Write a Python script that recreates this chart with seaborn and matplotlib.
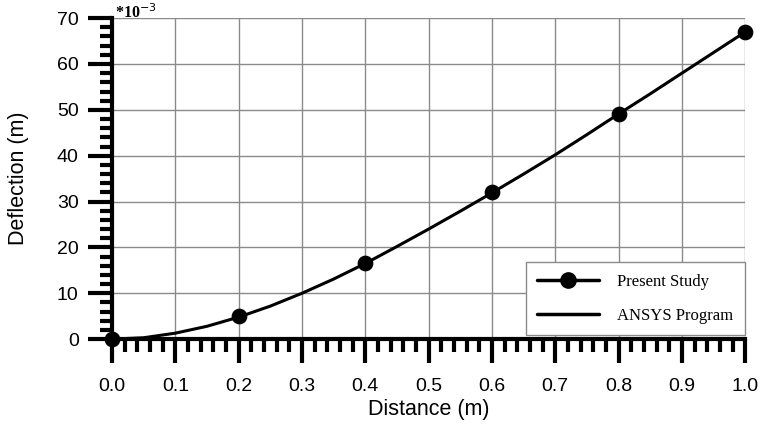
import matplotlib
matplotlib.use("Agg")
import matplotlib.pyplot as plt
import seaborn as sns
import pandas as pd
from matplotlib.ticker import MultipleLocator
from matplotlib.lines import Line2D

# Data
study_x = [0.0, 0.2, 0.4, 0.6, 0.8, 1.0]
study_y = [0.0, 5.0, 16.5, 32.0, 49.2, 67.0]

ansys_x = [0.0, 0.05, 0.1, 0.15, 0.2, 0.25, 0.3, 0.35, 0.4, 0.45, 0.5,
           0.55, 0.6, 0.65, 0.7, 0.75, 0.8, 0.85, 0.9, 0.95, 1.0]
ansys_y = [0.0, 0.3, 1.3, 2.8, 4.8, 7.2, 10.0, 13.1, 16.5, 20.2, 24.0,
           27.9, 31.9, 36.0, 40.2, 44.6, 49.1, 53.5, 58.0, 62.5, 67.0]

x_ticks = [0.0, 0.1, 0.2, 0.3, 0.4, 0.5, 0.6, 0.7, 0.8, 0.9, 1.0]
y_ticks = [0, 10, 20, 30, 40, 50, 60, 70]

sns.set_style("white", {"text.color": "black", "axes.labelcolor": "black",
                        "xtick.color": "black", "ytick.color": "black"})
plt.rcParams['font.family'] = ['Liberation Sans', 'DejaVu Sans']

fig = plt.figure(figsize=(7.62, 4.32), dpi=100)
ax = fig.add_axes([0.147, 0.215, 0.831, 0.743])

df_s = pd.DataFrame({"x": study_x, "y": study_y})
df_a = pd.DataFrame({"x": ansys_x, "y": ansys_y})

sns.lineplot(data=df_a, x="x", y="y", ax=ax, color="black", lw=2.2,
             zorder=3, legend=False)
sns.scatterplot(data=df_s, x="x", y="y", ax=ax, color="black", s=110,
                edgecolor="black", zorder=4, clip_on=False, legend=False)

ax.set_xlim(0, 1.0)
ax.set_ylim(0, 70)
ax.set_xticks(x_ticks)
ax.set_yticks(y_ticks)
ax.set_xticklabels([f"{v:.1f}" for v in x_ticks])
ax.set_yticklabels([str(v) for v in y_ticks])
ax.xaxis.set_minor_locator(MultipleLocator(0.02))
ax.yaxis.set_minor_locator(MultipleLocator(2))

ax.grid(True, which="major", color="#8a8a8a", lw=1.0)
ax.set_axisbelow(True)

for s in ["top", "right"]:
    ax.spines[s].set_visible(False)
for s in ["left", "bottom"]:
    ax.spines[s].set_color("black")
    ax.spines[s].set_linewidth(3)
    ax.spines[s].set_zorder(5)

ax.tick_params(axis="both", which="major", direction="out", length=17,
               width=3, color="black", labelcolor="black", labelsize=14,
               bottom=True, left=True)
ax.tick_params(axis="both", which="minor", direction="out", length=9,
               width=3, color="black", bottom=True, left=True)
ax.tick_params(axis="x", which="major", pad=11)
ax.tick_params(axis="y", which="major", pad=7)

ax.set_xlabel("Distance (m)", fontsize=15.5, labelpad=3, color="black")
ax.set_ylabel("Deflection (m)", fontsize=15.5, labelpad=20, color="black")

ax.text(0.005, 1.0, "*10$^{-3}$", transform=ax.transAxes, ha="left",
        va="baseline", fontsize=11.5, fontweight="bold", color="black",
        family="Liberation Serif")

handles = [Line2D([], [], color="black", lw=2.5, marker="o", markersize=11),
           Line2D([], [], color="black", lw=2.5)]
leg = ax.legend(handles, ["Present Study", "ANSYS Program"], loc="lower right",
                bbox_to_anchor=(1.0, 0.012), borderaxespad=0,
                prop={"family": "Liberation Serif", "size": 12},
                fancybox=False, framealpha=1, edgecolor="#8a8a8a",
                handlelength=3.7, borderpad=0.7, labelspacing=1.05, handletextpad=1.1)
leg.get_frame().set_linewidth(1.0)
leg.set_zorder(6)
for t in leg.get_texts():
    t.set_color("black")

fig.savefig("out.png", dpi=100)
